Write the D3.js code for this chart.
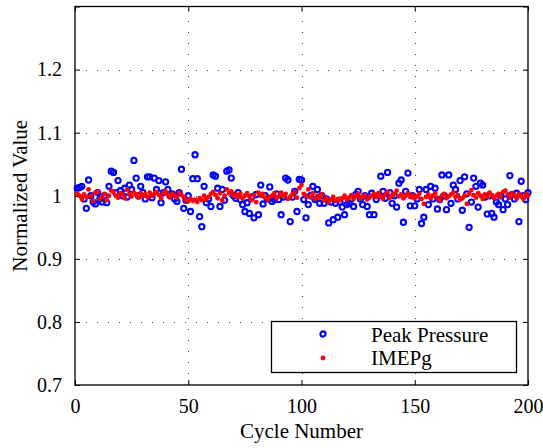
<!DOCTYPE html>
<html>
<head>
<meta charset="utf-8">
<script src="https://cdn.jsdelivr.net/npm/d3@7"></script>
<style>
body { margin: 0; background: #fff; }
</style>
</head>
<body>
<svg width="543" height="448"></svg>
<script>
// values, cycles 1..200
const peakPressure = [
    1.012, 1.013, 1.015, 0.995, 0.980, 1.025, 1.000, 0.990, 0.987, 1.005,
    0.995, 0.990, 1.000, 0.989, 1.015, 1.039, 1.037, 1.005, 1.024, 1.008,
    1.000, 1.012, 0.998, 1.017, 1.010, 1.056, 1.028, 1.000, 1.015, 1.005,
    0.995, 1.030, 1.030, 0.997, 1.028, 1.010, 1.024, 0.989, 1.005, 1.022,
    1.010, 1.000, 1.003, 0.995, 0.991, 1.005, 1.042, 0.980, 0.993, 1.000,
    0.975, 1.027, 1.065, 1.027, 0.967, 0.951, 1.015, 0.989, 0.995, 0.983,
    1.033, 1.031, 1.012, 0.983, 1.010, 0.993, 1.039, 1.041, 1.028, 1.000,
    0.996, 1.005, 0.994, 0.986, 0.975, 0.989, 0.972, 0.998, 0.965, 1.002,
    0.970, 1.017, 0.987, 1.000, 0.995, 1.014, 0.991, 0.994, 1.003, 0.994,
    0.970, 0.998, 1.028, 1.025, 0.959, 0.998, 1.007, 0.975, 1.026, 1.025,
    0.994, 0.965, 0.986, 1.000, 1.015, 0.994, 1.010, 0.988, 1.000, 0.988,
    0.995, 0.957, 0.990, 0.962, 0.988, 0.966, 0.990, 0.982, 0.970, 0.986,
    0.988, 0.995, 0.983, 1.002, 1.007, 0.995, 0.986, 1.000, 0.983, 0.970,
    1.004, 0.970, 0.994, 1.000, 1.031, 1.007, 0.996, 1.037, 1.005, 0.988,
    1.000, 0.982, 1.020, 1.025, 0.958, 1.007, 1.036, 0.984, 1.000, 0.984,
    0.995, 1.010, 0.956, 0.966, 1.010, 0.986, 1.015, 0.995, 1.012, 0.979,
    0.994, 1.033, 1.000, 0.978, 1.033, 0.988, 1.017, 1.010, 0.995, 1.024,
    0.977, 1.030, 1.003, 0.950, 0.990, 1.028, 1.015, 0.982, 1.020, 1.017,
    0.998, 0.971, 1.000, 0.972, 0.966, 0.990, 0.986, 1.000, 0.978, 0.995,
    0.986, 1.032, 1.002, 0.995, 1.004, 0.959, 1.023, 1.000, 0.994, 1.005
];
const imepg = [
    1.003, 1.000, 0.995, 1.002, 0.998, 1.010, 1.000, 0.992, 1.005, 1.006,
    0.995, 0.998, 1.003, 0.993, 1.000, 1.008, 1.006, 1.000, 0.997, 1.004,
    1.002, 0.996, 1.010, 1.003, 0.999, 1.005, 1.002, 0.997, 1.004, 1.000,
    1.002, 0.998, 1.005, 1.000, 1.003, 1.006, 1.001, 0.996, 1.004, 1.007,
    1.002, 0.998, 1.003, 1.000, 0.997, 1.005, 1.001, 0.998, 0.993, 0.991,
    0.995, 0.992, 0.994, 0.990, 0.996, 0.993, 1.000, 0.995, 0.998, 1.003,
    1.006, 1.001, 0.996, 1.004, 0.993, 1.000, 1.010, 1.004, 1.007, 1.000,
    1.002, 0.998, 1.003, 0.996, 1.000, 1.004, 0.999, 0.993, 1.001, 0.990,
    1.005, 1.000, 1.003, 0.997, 0.994, 0.998, 1.000, 1.004, 0.996, 0.999,
    1.005, 1.000, 1.003, 0.995, 0.998, 1.002, 1.006, 0.997, 1.012, 1.017,
    1.003, 1.000, 1.010, 0.998, 1.004, 0.995, 1.000, 0.997, 1.002, 0.993,
    0.996, 0.990, 0.994, 0.998, 0.992, 0.995, 0.993, 0.996, 1.000, 0.994,
    0.997, 1.001, 0.995, 0.999, 1.003, 0.996, 0.998, 1.001, 0.994, 0.997,
    1.000, 1.003, 0.998, 1.004, 0.999, 0.995, 1.002, 1.006, 0.997, 1.001,
    1.003, 1.008, 0.999, 1.002, 0.996, 1.000, 1.004, 0.998, 1.001, 0.996,
    0.999, 1.003, 0.995, 0.987, 0.998, 1.002, 0.996, 1.000, 1.004, 0.997,
    0.993, 1.000, 1.003, 0.996, 0.999, 1.002, 1.005, 0.998, 1.001, 0.994,
    0.996, 1.000, 0.987, 1.003, 1.009, 1.001, 0.997, 1.004, 1.000, 0.995,
    1.002, 0.998, 1.005, 1.001, 0.996, 1.000, 1.003, 0.998, 1.006, 1.008,
    1.002, 0.997, 1.004, 1.000, 0.996, 1.003, 0.999, 0.995, 1.002, 1.000
];
const cycles = d3.range(1, peakPressure.length + 1);
const xTicks = [0, 50, 100, 150, 200];
const yTicks = [0.7, 0.8, 0.9, 1.0, 1.1, 1.2, 1.3];
const yTickLabels = ["0.7", "0.8", "0.9", "1", "1.1", "1.2", ""];
const legendLabels = ["Peak Pressure", "IMEPg"];

const FONT = "'Liberation Serif', 'Times New Roman', Times, serif";

var svg = d3.select("svg");
var mLeft = 75, mRight = 528, mTop = 6.5, mBottom = 385;

var x = d3.scaleLinear().domain([0, 200]).range([mLeft, mRight]);
var y = d3.scaleLinear().domain([0.7, 1.3]).range([mBottom, mTop]);

// dotted grid
var grid = svg.append("g").attr("class", "grid")
    .attr("stroke", "#444").attr("stroke-width", 1)
    .attr("stroke-dasharray", "1,10");
grid.selectAll("line.v").data(xTicks.slice(1, -1)).enter().append("line")
    .attr("x1", d => Math.round(x(d)) + 0.5).attr("x2", d => Math.round(x(d)) + 0.5)
    .attr("y1", mBottom).attr("y2", mTop);
grid.selectAll("line.h").data(yTicks.slice(1, -1)).enter().append("line")
    .attr("y1", d => Math.round(y(d)) + 0.5).attr("y2", d => Math.round(y(d)) + 0.5)
    .attr("x1", mLeft).attr("x2", mRight);

// axes, ticks inside like matlab
function styleAxis(g) {
    g.select(".domain").remove();
    g.attr("font-family", null);
    g.selectAll(".tick line").attr("stroke", "#000");
    g.selectAll(".tick text")
        .style("font-family", FONT).style("font-size", "20px").attr("fill", "#000");
}
svg.append("g").attr("transform", `translate(0,${mBottom})`)
    .call(d3.axisBottom(x).tickValues(xTicks).tickSize(-5).tickPadding(14).tickFormat(d3.format("d")))
    .call(styleAxis);
svg.append("g").attr("transform", `translate(0,${mTop})`)
    .call(d3.axisTop(x).tickValues(xTicks).tickSize(-5).tickFormat(""))
    .call(styleAxis);
svg.append("g").attr("transform", `translate(${mLeft},0)`)
    .call(d3.axisLeft(y).tickValues(yTicks).tickSize(-5).tickPadding(13)
        .tickFormat((d, i) => yTickLabels[i]))
    .call(styleAxis);
svg.append("g").attr("transform", `translate(${mRight},0)`)
    .call(d3.axisRight(y).tickValues(yTicks).tickSize(-5).tickFormat(""))
    .call(styleAxis);

svg.append("rect")
    .attr("x", mLeft).attr("y", mTop)
    .attr("width", mRight - mLeft).attr("height", mBottom - mTop)
    .attr("fill", "none").attr("stroke", "#000").attr("stroke-width", 1.3);

// data
var plot = svg.append("g");
plot.selectAll("circle.pp").data(cycles).enter().append("circle")
    .attr("class", "pp")
    .attr("cx", d => x(d)).attr("cy", (d, i) => y(peakPressure[i]))
    .attr("r", 2.6)
    .attr("fill", "none").attr("stroke", "#0000ff").attr("stroke-width", 2.1);
plot.selectAll("circle.imep").data(cycles).enter().append("circle")
    .attr("class", "imep")
    .attr("cx", d => x(d)).attr("cy", (d, i) => y(imepg[i]))
    .attr("r", 2.4)
    .attr("fill", "#ff0000");

// axis titles
svg.append("text")
    .attr("x", (mLeft + mRight) / 2).attr("y", 438)
    .attr("text-anchor", "middle")
    .style("font-family", FONT).style("font-size", "21px")
    .text("Cycle Number");
svg.append("text")
    .attr("transform", `translate(27,${(mTop + mBottom) / 2}) rotate(-90)`)
    .attr("text-anchor", "middle")
    .style("font-family", FONT).style("font-size", "21px")
    .text("Normalized Value");

// legend
var legend = svg.append("g");
legend.append("rect")
    .attr("x", 271.5).attr("y", 321.5).attr("width", 245).attr("height", 51)
    .attr("fill", "#fff").attr("stroke", "#000").attr("stroke-width", 1.3);
var rows = legend.selectAll("g.row").data(legendLabels).enter().append("g")
    .attr("transform", (d, i) => `translate(0,${334 + i * 23})`);
rows.append("text")
    .attr("x", 371).attr("y", 8)
    .style("font-family", FONT).style("font-size", "21px")
    .text(d => d);
rows.filter((d, i) => i === 0).append("circle")
    .attr("cx", 323).attr("cy", 0).attr("r", 2.6)
    .attr("fill", "none").attr("stroke", "#0000ff").attr("stroke-width", 2.1);
rows.filter((d, i) => i === 1).append("circle")
    .attr("cx", 323).attr("cy", 1).attr("r", 2.4)
    .attr("fill", "#ff0000");
</script>
</body>
</html>
